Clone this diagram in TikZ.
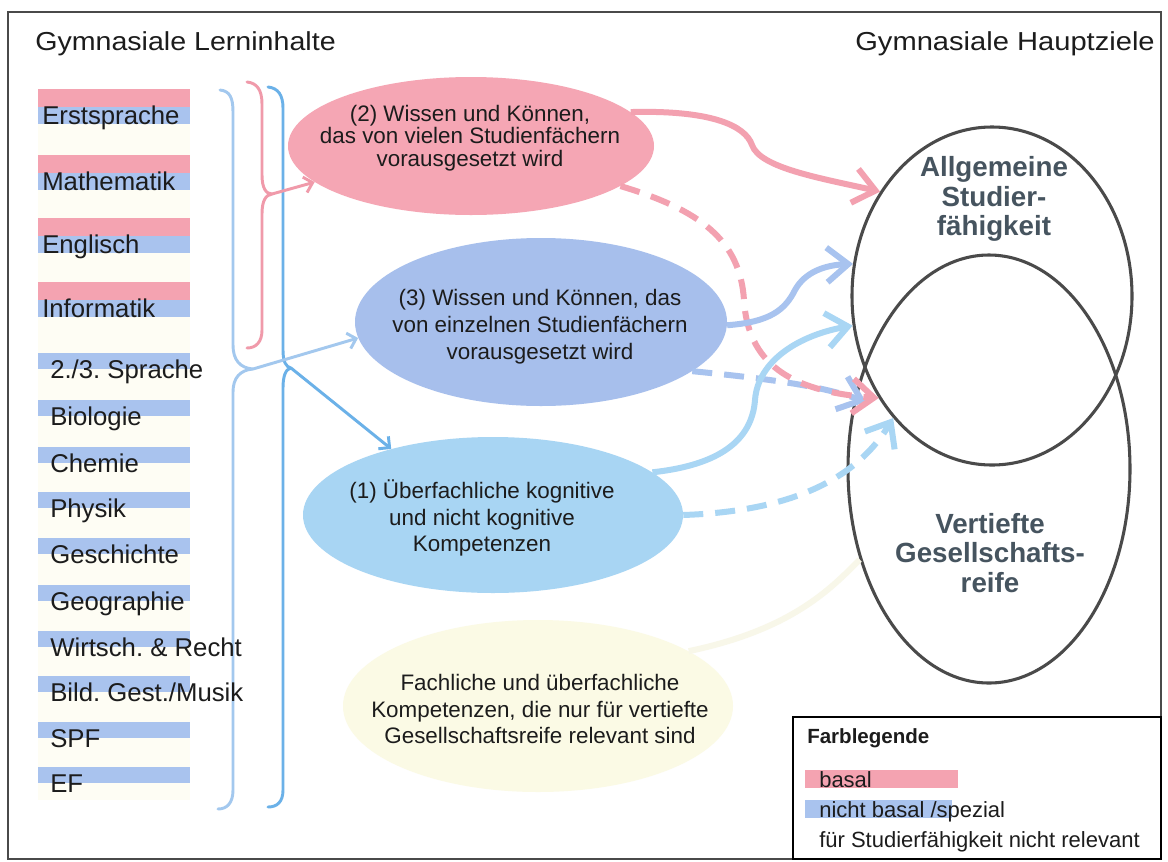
\documentclass[tikz,border=0pt]{standalone}
\usepackage{fontspec}
\usepackage{graphicx}
\setmainfont{Liberation Sans}
\usetikzlibrary{arrows.meta,shapes.geometric}
\definecolor{txt}{HTML}{1C1C1C}
\definecolor{barpink}{HTML}{F4A3B1}
\definecolor{barblue}{HTML}{A9C3EE}
\definecolor{cream}{HTML}{FEFDF4}
\definecolor{elpink}{HTML}{F5A6B4}
\definecolor{elperi}{HTML}{A7BFEC}
\definecolor{elsky}{HTML}{A8D5F3}
\definecolor{elyel}{HTML}{FBFAE5}
\definecolor{arpink}{HTML}{F3A1B0}
\definecolor{arperi}{HTML}{A8C3EF}
\definecolor{arsky}{HTML}{A9D6F4}
\definecolor{bracelight}{HTML}{A3C8EE}
\definecolor{bracedark}{HTML}{6BB1E8}
\definecolor{bracepink}{HTML}{F09AAA}
\definecolor{ringc}{HTML}{4A4A4A}
\definecolor{labc}{HTML}{46545F}
\definecolor{faint}{HTML}{F8F7E9}
\frenchspacing
\begin{document}
\begin{tikzpicture}[x=0.75pt,y=-0.75pt,
  subj/.style={anchor=base west, inner sep=0pt, text=txt, font=\fontsize{19.3}{23}\selectfont},
  ell/.style={ellipse, inner sep=0pt, draw=none},
  etxt/.style={align=center, inner sep=0pt, text=txt, font=\fontsize{16.8}{20.2}\selectfont},
  etxtb/.style={align=center, inner sep=0pt, text=txt, font=\fontsize{16.8}{16.8}\selectfont},
  ring/.style={ellipse, inner sep=0pt, draw=ringc, line width=2.3pt},
  lab/.style={align=center, inner sep=0pt, text=labc, font=\bfseries\fontsize{20.8}{22}\selectfont},
  bracel/.style={line width=2.2pt, line cap=round, line join=round},
  thinar/.style={line width=2.2pt, -{Straight Barb[length=6pt,width=12pt]}},
  fatar/.style={line width=4.5pt, -{Straight Barb[length=16pt,width=26pt]}},
  dashar/.style={fatar, dash pattern=on 15pt off 9pt},
  legt/.style={anchor=base west, inner sep=0pt, text=txt, font=\fontsize{16.5}{19}\selectfont}
]
\useasboundingbox (0,0) rectangle (1168,861);
\fill[white] (0,0) rectangle (1168,861);

% outer frame
\draw[ringc, line width=1.5pt] (8,12) rectangle (1161,859);

% titles
\node[anchor=base west, inner sep=0pt, text=txt, font=\fontsize{19.5}{23}\selectfont] (tl) at (35,50) {\scalebox{1.1}[1]{Gymnasiale Lerninhalte}};
\node[anchor=base east, inner sep=0pt, text=txt, font=\fontsize{19.5}{23}\selectfont] (tr) at (1155,50) {\scalebox{1.12}[1]{Gymnasiale Hauptziele}};

% subject column background
\fill[cream] (38,89) rectangle (190,800);

% braces (drawn below the subject texts)
\coordinate (tipo) at (253,369);
\coordinate (tipp) at (272,194);
\coordinate (tipi) at (291,368);
\draw[bracel, bracelight] (220,90) .. controls (230,91) and (233,98) .. (233,112) -- (233,345)
  .. controls (233,360) and (240,368) .. (tipo)
  .. controls (240,370) and (233,378) .. (233,392) -- (233,790)
  .. controls (233,803) and (227,809) .. (218,809);
\draw[bracel, bracepink] (247,82) .. controls (257,83) and (262,90) .. (262,104) -- (262,175)
  .. controls (262,188) and (266,194) .. (tipp)
  .. controls (266,195) and (262,200) .. (262,214) -- (262,330)
  .. controls (262,342) and (256,348) .. (247,348);
\draw[bracel, bracedark] (268,87) .. controls (278,88) and (283,95) .. (283,108) -- (283,350)
  .. controls (283,362) and (286,367) .. (tipi)
  .. controls (286,369) and (283,375) .. (283,388) -- (283,790)
  .. controls (283,802) and (277,807) .. (268,807);

% basal subjects
\foreach \p/\name [count=\i] in {89/Erstsprache,155/Mathematik,218/Englisch,282/Informatik}{
  \fill[barpink] (38,\p) rectangle (190,\p+18);
  \fill[barblue] (38,\p+18) rectangle (190,\p+35);
  \node[subj] (b\i) at (42,\p+35) {\name};
}
% non-basal subjects
\foreach \t/\name [count=\i] in {353/{2./3. Sprache},400/Biologie,447/Chemie,492/Physik,538/Geschichte,585/Geographie,631/{Wirtsch. \& Recht},676/{Bild. Gest./Musik},722/SPF,767/EF}{
  \fill[barblue] (38,\t) rectangle (190,\t+16);
  \node[subj] (n\i) at (50,\t+25) {\name};
}

% ellipses
\node[ell, fill=elpink, minimum width=274.5pt, minimum height=103.5pt] (e2) at (471,146) {};
\node[ell, fill=elperi, minimum width=279pt, minimum height=126pt] (e3) at (541,322) {};
\node[ell, fill=elsky, minimum width=285pt, minimum height=117pt] (e1) at (493,515) {};
\node[ell, fill=elyel, minimum width=292.5pt, minimum height=129pt] (ey) at (538,706) {};

\node[etxtb] (t2) at (470,138) {(2) Wissen und Können,\\das von vielen Studienfächern\\vorausgesetzt wird};
\node[etxt] (t3) at (540,327) {(3) Wissen und Können, das\\von einzelnen Studienfächern\\vorausgesetzt wird};
\node[etxt] (t1) at (482,518) {(1) Überfachliche kognitive\\und nicht kognitive\\Kompetenzen};
\node[etxt] (ty) at (540,709) {Fachliche und überfachliche\\Kompetenzen, die nur für vertiefte\\Gesellschaftsreife relevant sind};

% rings
\node[ring, minimum width=210pt, minimum height=253.5pt] (sf) at (992,296) {};
\node[ring, minimum width=211.5pt, minimum height=321pt] (gr) at (989,469) {};
\node[lab] (lsf) at (994,199) {Allgemeine\\Studier-\\fähigkeit};
\node[lab] (lgr) at (990,553) {Vertiefte\\Gesellschafts-\\reife};

% brace arrows
\draw[thinar, bracepink] (tipp) -- (e2.193);
\draw[thinar, bracelight] (tipo) -- (e3.185);
\draw[thinar, bracedark] (tipi) -- (e1.147);

% faint arrow from yellow ellipse
\draw[line width=4.5pt, faint] (ey.20) .. controls (790,630) and (830,590) .. (gr.215);

% main arrows
\coordinate (bdt) at (866,402);
\draw[dashar, arperi] (e3.-18) .. controls (760,378) and (820,385) .. (bdt);
\draw[dashar, arpink] (e2.-15) .. controls (700,210) and (740,240) .. (744,300)
  .. controls (748,370) and (800,392) .. (sf.222);
\draw[fatar, arpink] (e2.12) .. controls (710,110) and (745,125) .. (752,145)
  .. controls (760,168) and (820,178) .. (sf.137);
\draw[fatar, arperi] (e3.-1) .. controls (770,322) and (785,310) .. (795,290)
  .. controls (805,272) and (825,265) .. (sf.167);
\draw[fatar, arsky] (e1.15) .. controls (720,465) and (752,440) .. (755,400)
  .. controls (758,360) and (800,335) .. (sf.192);
\draw[dashar, arsky] (e1.0) .. controls (770,512) and (850,490) .. (sf.231);

% legend
\draw[black, line width=1.2pt] (793,717) rectangle (1161,859);
\node[anchor=base west, inner sep=0pt, text=txt, font=\bfseries\fontsize{15.4}{18}\selectfont] (lg) at (807,743) {Farblegende};
\fill[barpink] (805,770) rectangle (958,788);
\fill[barblue] (805,800) rectangle (952,818);
\node[legt] (l1) at (819,787) {basal};
\node[legt] (l2) at (819,817) {nicht basal /spezial};
\node[legt] (l3) at (819,847) {für Studierfähigkeit nicht relevant};
\end{tikzpicture}
\end{document}
